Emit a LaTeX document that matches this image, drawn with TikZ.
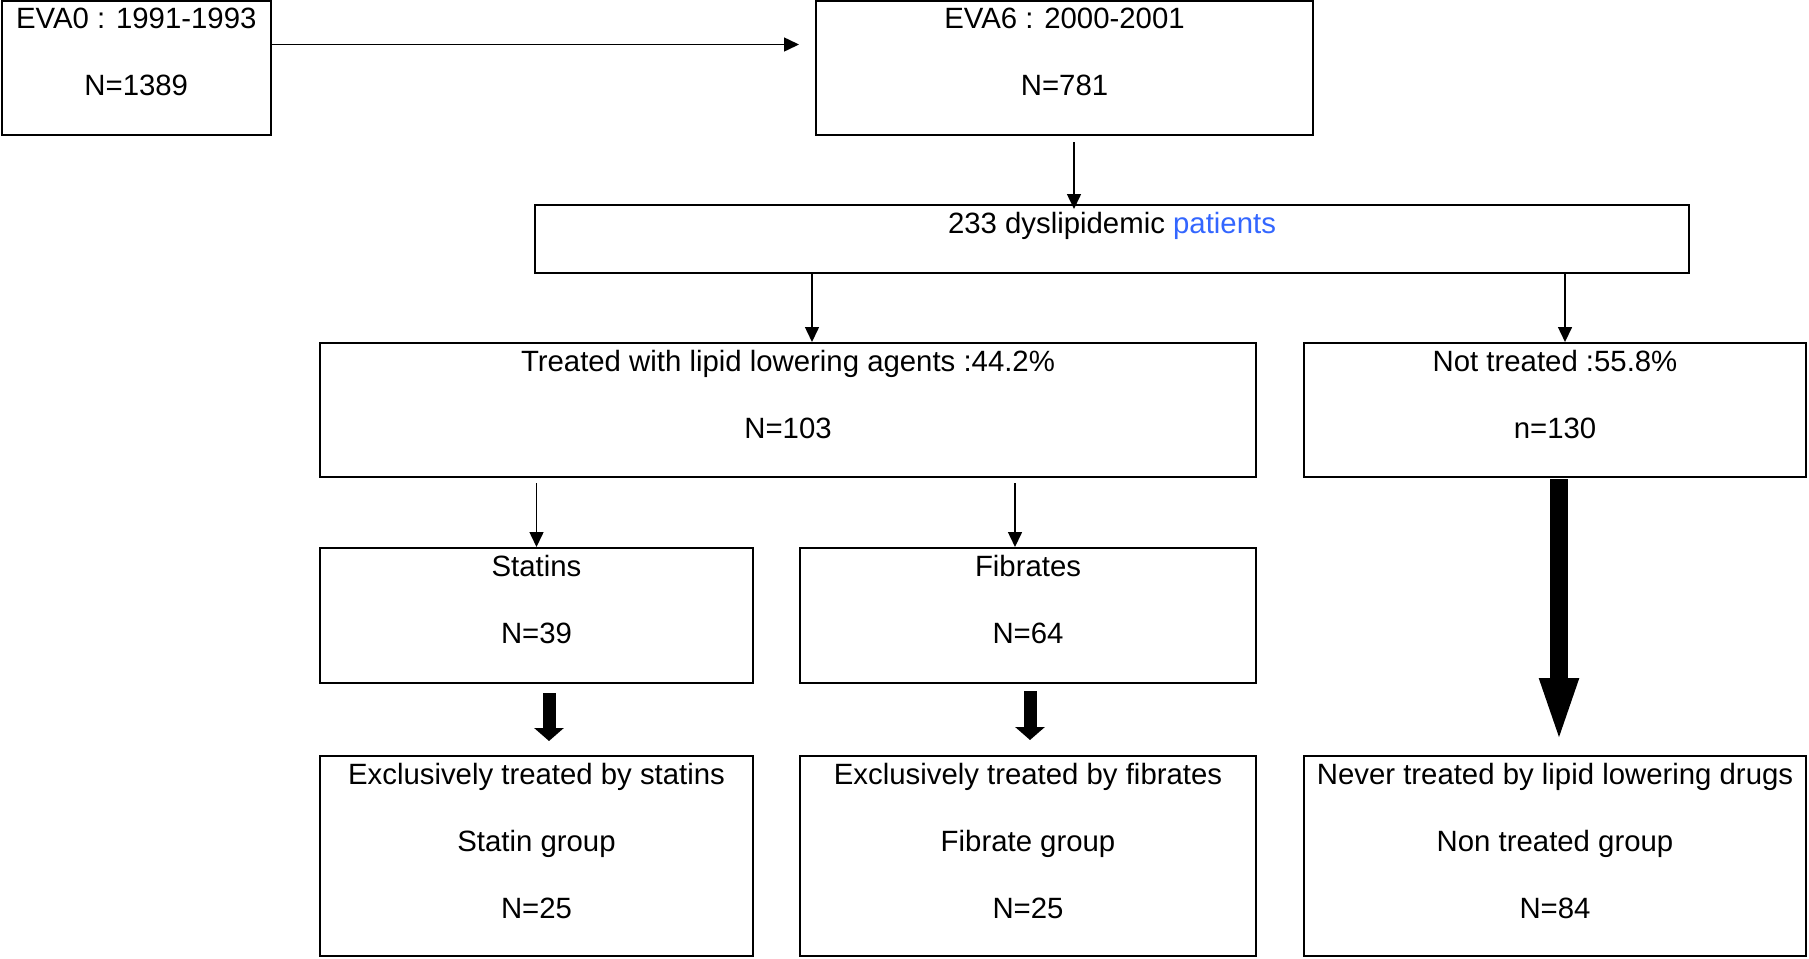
\documentclass[tikz,border=0pt]{standalone}
\usepackage{fontspec}
\setmainfont{Liberation Sans}
\usetikzlibrary{arrows.meta}
\definecolor{patientblue}{RGB}{51,102,255}
\tikzset{
block/.style    = {draw, line width=0.04cm, rectangle, inner sep=0pt},
blocktext/.style = {anchor=north, inner sep=0pt, align=center, font=\fontsize{16.7}{19}\selectfont},
line/.style     = {draw, line width=0.03cm, -{Triangle[length=0.3cm, width=0.28cm]}},
bigline/.style  = {draw, line width=0.26cm, -{Triangle[length=0.26cm, width=0.58cm]}},}

\begin{document}
\begin{tikzpicture}
    \useasboundingbox (0,0) rectangle (36.18,-19.16);
    % boxes
    \node[block, minimum width=5.39cm, minimum height=2.68cm] (eva0) at (2.725,-1.36) {};
    \node[block, minimum width=9.94cm, minimum height=2.68cm] (eva6) at (21.29,-1.36) {};
    \node[block, minimum width=23.08cm, minimum height=1.36cm] (dys) at (22.24,-4.78) {};
    \node[block, minimum width=18.72cm, minimum height=2.68cm] (treated) at (15.76,-8.20) {};
    \node[block, minimum width=10.04cm, minimum height=2.68cm] (nott) at (31.10,-8.20) {};
    \node[block, minimum width=8.66cm, minimum height=2.70cm] (statins) at (10.73,-12.31) {};
    \node[block, minimum width=9.12cm, minimum height=2.70cm] (fibrates) at (20.56,-12.31) {};
    \node[block, minimum width=8.66cm, minimum height=4.00cm] (statgrp) at (10.73,-17.12) {};
    \node[block, minimum width=9.12cm, minimum height=4.00cm] (fibgrp) at (20.56,-17.12) {};
    \node[block, minimum width=10.04cm, minimum height=4.00cm] (nongrp) at (31.10,-17.12) {};
    % texts
    \node[blocktext] (eva0-t) at ([yshift=-0.16cm]eva0.north) {EVA0 : 1991-1993\\[19pt]N=1389};
    \node[blocktext] (eva6-t) at ([yshift=-0.16cm]eva6.north) {EVA6 : 2000-2001\\[19pt]N=781};
    \node[blocktext] (dys-t) at ([yshift=-0.16cm]dys.north) {233 dyslipidemic \textcolor{patientblue}{patients}};
    \node[blocktext] (treated-t) at ([yshift=-0.16cm]treated.north) {Treated with lipid lowering agents :44.2\%\\[19pt]N=103};
    \node[blocktext] (nott-t) at ([yshift=-0.16cm]nott.north) {Not treated :55.8\%\\[19pt]n=130};
    \node[blocktext] (statins-t) at ([yshift=-0.16cm]statins.north) {Statins\\[19pt]N=39};
    \node[blocktext] (fibrates-t) at ([yshift=-0.16cm]fibrates.north) {Fibrates\\[19pt]N=64};
    \node[blocktext] (statgrp-t) at ([yshift=-0.16cm]statgrp.north) {Exclusively treated by statins\\[19pt]Statin group\\[19pt]N=25};
    \node[blocktext] (fibgrp-t) at ([yshift=-0.16cm]fibgrp.north) {Exclusively treated by fibrates\\[19pt]Fibrate group\\[19pt]N=25};
    \node[blocktext] (nongrp-t) at ([yshift=-0.16cm]nongrp.north) {Never treated by lipid lowering drugs\\[19pt]Non treated group\\[19pt]N=84};
    % connectors
    \draw[line, shorten >=0.32cm] ([yshift=0.47cm]eva0.east) -- ([yshift=0.47cm]eva6.west);
    \draw[line] ([xshift=0.19cm,yshift=-0.12cm]eva6.south) -- ([xshift=0.19cm,yshift=-0.1cm]dys.north -| eva6.south);
    \draw[line] ([xshift=0.48cm]treated.north |- dys.south) -- ([xshift=0.48cm]treated.north);
    \draw[line] ([xshift=0.2cm]nott.north |- dys.south) -- ([xshift=0.2cm]nott.north);
    \draw[line] ([yshift=-0.1cm]statins.north |- treated.south) -- (statins.north);
    \draw[line] ([xshift=-0.26cm,yshift=-0.1cm]fibrates.north |- treated.south) -- ([xshift=-0.26cm]fibrates.north);
    \draw[bigline] ([xshift=0.25cm,yshift=-0.18cm]statins.south) -- ([xshift=0.25cm,yshift=0.28cm]statgrp.north);
    \draw[bigline] ([xshift=0.04cm,yshift=-0.14cm]fibrates.south) -- ([xshift=0.04cm,yshift=0.30cm]fibgrp.north);
    \draw[bigline, line width=0.36cm, -{Triangle[length=1.36cm, width=0.68cm]}] ([xshift=0.08cm,yshift=-0.02cm]nott.south) -- ([xshift=0.08cm,yshift=0.18cm]nongrp.north);
\end{tikzpicture}
\end{document}
